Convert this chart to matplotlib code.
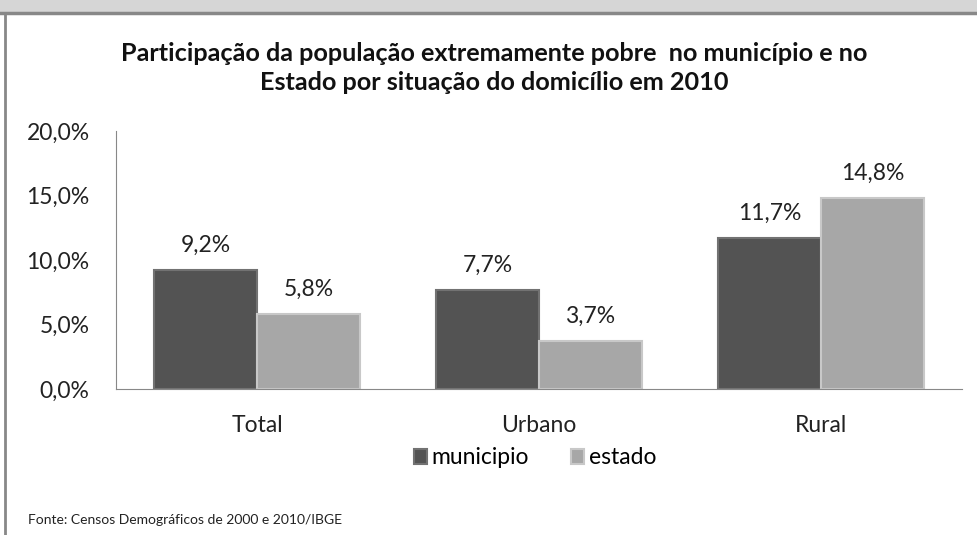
import matplotlib
matplotlib.use('Agg')
import matplotlib.pyplot as plt
import numpy as np

categories = ['Total', 'Urbano', 'Rural']
municipio = [9.2, 7.7, 11.7]
estado = [5.8, 3.7, 14.8]
series_names = ['municipio', 'estado']
yticks = [0, 5, 10, 15, 20]

title = ('Participação da população extremamente pobre  no município e no\n'
         'Estado por situação do domicílio em 2010')
source = 'Fonte: Censos Demográficos de 2000 e 2010/IBGE'

plt.rcParams['font.family'] = ['Lato', 'DejaVu Sans']

def pct(v):
  return ('%.1f%%' % v).replace('.', ',')

fig = plt.figure(figsize=(9.78, 5.35), dpi=100)

# frame around the chart, like the screenshot
fig.patches.append(plt.Rectangle((0, 1 - 12 / 535.), 1, 12 / 535., transform=fig.transFigure,
                                 facecolor='#d6d6d6', edgecolor='none', zorder=0))
fig.add_artist(plt.Line2D([0, 1], [1 - 13 / 535.] * 2, color='#888888', lw=2.5))
fig.add_artist(plt.Line2D([5 / 978.] * 2, [0, 1 - 13 / 535.], color='#888888', lw=2))

ax = fig.add_axes([116 / 978., 1 - 389 / 535., (962 - 116) / 978., (389 - 131) / 535.])

x = np.arange(len(categories))
w = 0.365
b1 = ax.bar(x - w / 2, municipio, w, color='#535353', edgecolor='#727272', lw=1.5, label=series_names[0])
b2 = ax.bar(x + w / 2, estado, w, color='#a7a7a7', edgecolor='#c8c8c8', lw=1.5, label=series_names[1])

for bars, vals in ((b1, municipio), (b2, estado)):
  for r, v in zip(bars, vals):
    ax.text(r.get_x() + r.get_width() / 2, v + 1.1, pct(v), ha='center', va='bottom',
            fontsize=16.5, color='#222222')

ax.set_xlim(-0.5, 2.5)
ax.set_ylim(0, 20)
ax.set_yticks(yticks)
ax.set_yticklabels([pct(t) for t in yticks], fontsize=16.5, color='#222222')
ax.set_xticks(x)
ax.set_xticklabels(categories, fontsize=16.5, color='#222222')
ax.tick_params(axis='both', length=0)
ax.tick_params(axis='y', pad=19)
ax.tick_params(axis='x', pad=19)
for s in ('top', 'right'):
  ax.spines[s].set_visible(False)
ax.spines['left'].set_color('#888888')
ax.spines['bottom'].set_color('#888888')

fig.text(494 / 978., 1 - 68 / 535., title, ha='center', va='center', fontsize=18.2,
         fontweight='bold', linespacing=1.3, color='#111111')

fig.legend(loc='center', bbox_to_anchor=(535 / 978., 1 - 458 / 535.), ncol=2, frameon=False,
           fontsize=16.5, handlelength=0.6, handleheight=0.6, handletextpad=0.2, columnspacing=1.8)

fig.text(28 / 978., 1 - 520 / 535., source, ha='left', va='center', fontsize=10, color='#222222')

plt.savefig('out.png', dpi=100)
